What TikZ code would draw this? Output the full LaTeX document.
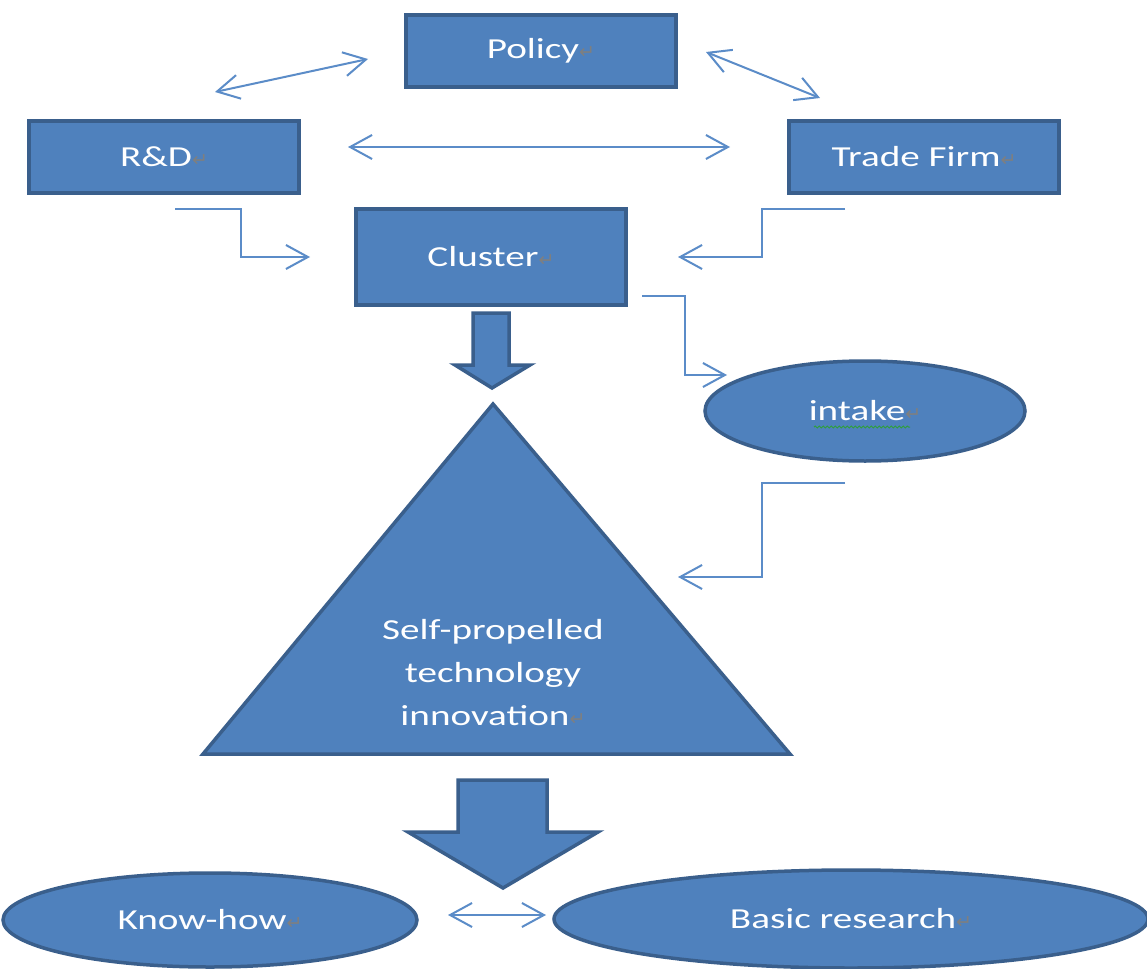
\documentclass[tikz,border=0pt]{standalone}
\usepackage{fontspec}
\newfontfamily\DiagFont{Carlito}[FakeStretch=1.35]
\newfontfamily\MarkFont{DejaVu Sans}
\usetikzlibrary{arrows.meta,shapes.geometric,decorations.pathmorphing}

\definecolor{ShapeBlue}{HTML}{4F81BD}
\definecolor{ShapeEdge}{HTML}{3A5F8C}
\definecolor{LinkBlue}{HTML}{5B8CC8}
\definecolor{MarkGray}{HTML}{7F7F7F}
\definecolor{SpellGreen}{HTML}{2E9E3E}

\def\BoxW{270}
\def\BoxH{72}
\def\EdgeW{3.5pt}
\newcommand\RetMark{{\MarkFont\fontsize{19}{19}\selectfont\textcolor{MarkGray}{↵}}}

\begin{document}
\begin{tikzpicture}[x=1pt,y=-1pt,
    box/.style={draw=ShapeEdge,fill=ShapeBlue,line width=\EdgeW,
        minimum width=\BoxW pt,minimum height=\BoxH pt,text=white,
        font=\DiagFont\fontsize{29}{34}\selectfont},
    oval/.style={ellipse,draw=ShapeEdge,fill=ShapeBlue,line width=\EdgeW,
        inner sep=0pt,text=white,font=\DiagFont\fontsize{29}{34}\selectfont},
    solid shape/.style={draw=ShapeEdge,fill=ShapeBlue,line width=\EdgeW,line join=miter},
    link/.style={draw=LinkBlue,line width=2pt,
        >={Straight Barb[length=22pt,width=24pt]}}
]

% Page frame
\useasboundingbox (0,0) rectangle (1147,968);
\fill[white] (0,0) rectangle (1147,968);

% =====================================================
% TOP ROW: POLICY, R&D, TRADE FIRM
% =====================================================
\node[box] (policy) at (541,51) {Policy\RetMark};
\node[box] (rnd) at (164,157) {R\&D\RetMark};
\node[box] (trade) at (924,157) {Trade Firm\RetMark};

% Cluster box, a bit taller
\node[box,minimum height=96pt] (cluster) at (491,257) {Cluster\RetMark};

% =====================================================
% TWO-WAY LINKS
% =====================================================
\coordinate (PolicyRndA) at (215,92);
\coordinate (PolicyRndB) at (368,59);
\coordinate (PolicyTradeA) at (706,52);
\coordinate (PolicyTradeB) at (820,98);
\coordinate (RndTradeA) at (348,147);
\coordinate (RndTradeB) at (730,147);

\draw[link,<->] (PolicyRndA) -- (PolicyRndB);
\draw[link,<->] (PolicyTradeA) -- (PolicyTradeB);
\draw[link,<->] (RndTradeA) -- (RndTradeB);

% =====================================================
% ELBOW LINKS INTO CLUSTER AND OUT TO INTAKE
% =====================================================
\coordinate (RndOut) at (175,209);
\coordinate (ClusterInL) at (310,257);
\coordinate (TradeOut) at (845,209);
\coordinate (ClusterInR) at (678,257);
\coordinate (ClusterOut) at (642,296);
\coordinate (IntakeIn) at (727,375);

\draw[link,->] (RndOut) -| (241,257) -- (ClusterInL);
\draw[link,->] (TradeOut) -| (762,257) -- (ClusterInR);
\draw[link,->] (ClusterOut) -| (685,375) -- (IntakeIn);

% Intake
\node[oval,minimum width=320pt,minimum height=100pt] (intake) at (865,411) {intake\RetMark};
\draw[SpellGreen,line width=1pt,decorate,
    decoration={snake,amplitude=1pt,segment length=4pt}] (814,427) -- (910,427);

% Intake back to the triangle
\coordinate (IntakeOut) at (845,483);
\coordinate (TriangleIn) at (678,577);
\draw[link,->] (IntakeOut) -| (762,577) -- (TriangleIn);

% =====================================================
% BLOCK ARROW AND TRIANGLE
% =====================================================
\draw[solid shape] (473,313) -- (509,313) -- (509,365) -- (530,365)
    -- (492,388) -- (455,365) -- (473,365) -- cycle;

\draw[solid shape] (493,404) -- (790,754) -- (203,754) -- cycle;
\node[text=white,align=center,font=\DiagFont\fontsize{29}{43}\selectfont]
    (innovation) at (493,673) {Self-propelled\\technology\\innovation\RetMark};

\draw[solid shape] (458,780) -- (547,780) -- (547,832) -- (598,832)
    -- (503,888) -- (408,832) -- (458,832) -- cycle;

% =====================================================
% BOTTOM ROW
% =====================================================
\node[oval,minimum width=414pt,minimum height=94pt] (knowhow) at (210,920) {Know-how\RetMark};
\node[oval,minimum width=594pt,minimum height=98pt] (basic) at (851,919) {Basic research\RetMark};

\coordinate (KnowhowOut) at (448,915);
\coordinate (BasicIn) at (546,915);
\draw[link,<->] (KnowhowOut) -- (BasicIn);

\end{tikzpicture}
\end{document}
